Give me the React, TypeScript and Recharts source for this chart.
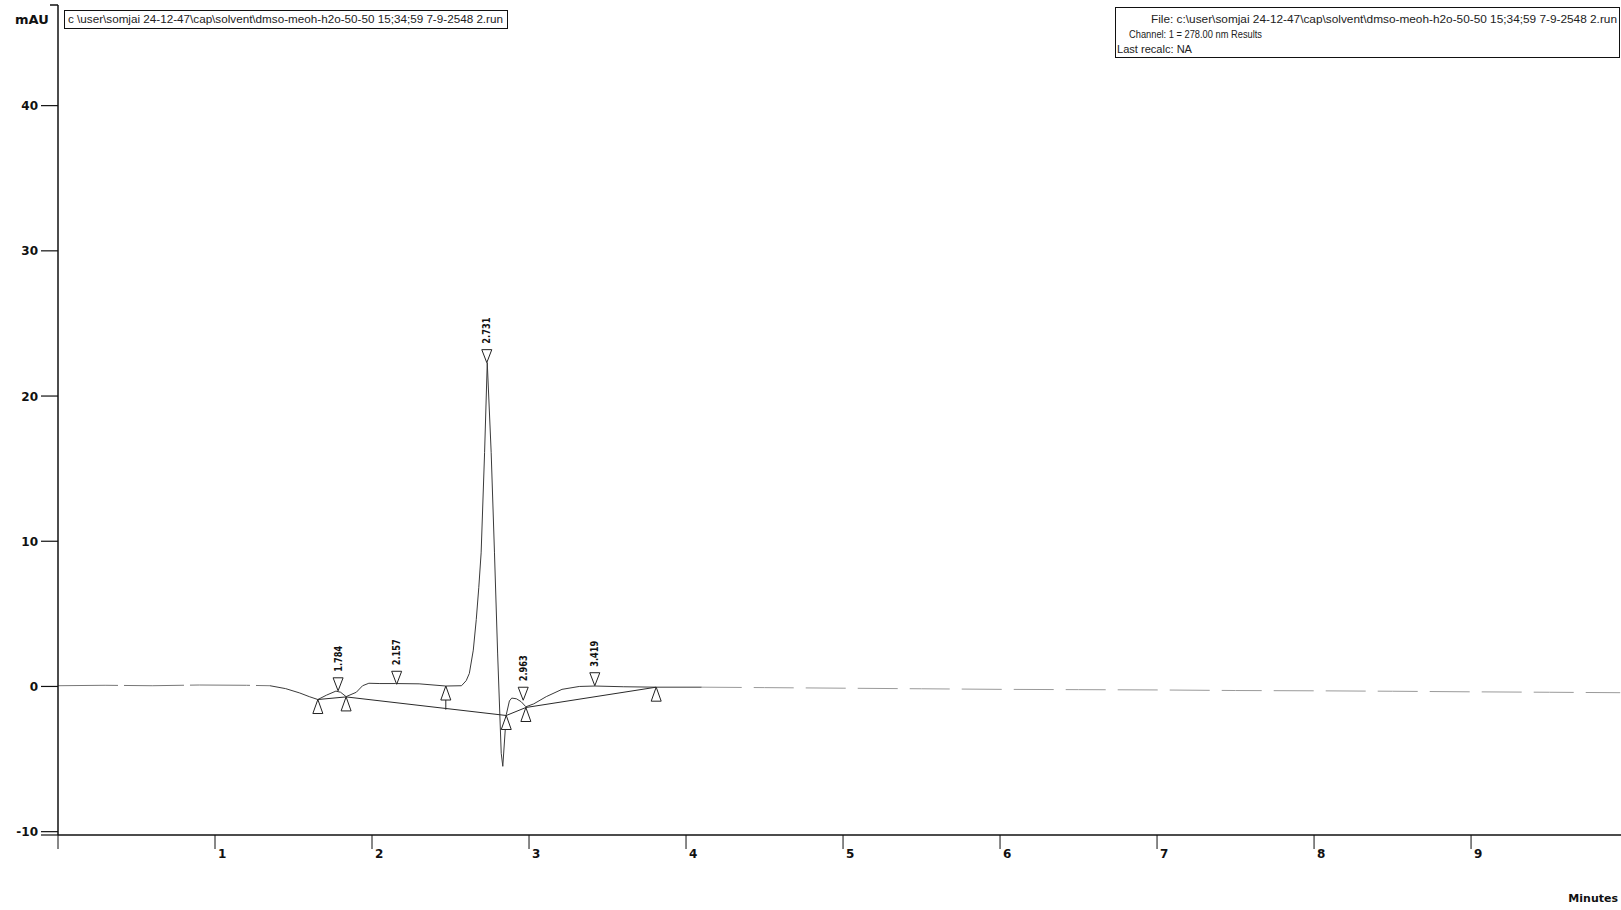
import React from "react";
import { ComposedChart, Line, Scatter, XAxis, YAxis } from "recharts";

// detector trace, minutes vs mAU
const headMinutes = [0, 0.3, 0.6, 0.9, 1.2, 1.35];
const headMAU = [0.05, 0.08, 0.05, 0.1, 0.08, 0.05];
const traceMinutes = [
  1.35, 1.45, 1.54, 1.6, 1.655, 1.71, 1.77, 1.8, 1.835, 1.9, 1.94, 1.98,
  2.05, 2.15, 2.3, 2.47, 2.57, 2.6, 2.62, 2.645, 2.664, 2.68, 2.695, 2.717, 2.734, 2.759, 2.78,
  2.8, 2.823, 2.833, 2.855, 2.875, 2.89, 2.92, 2.95, 2.98, 3.03, 3.11, 3.21, 3.32, 3.42, 3.6, 3.81,
  4.0, 4.1,
];
const traceMAU = [
  0.05, -0.15, -0.45, -0.7, -0.9, -0.6, -0.32, -0.4, -0.7, -0.4, 0.05,
  0.22, 0.2, 0.2, 0.18, 0.03, 0.05, 0.4, 0.9, 2.5, 4.6, 6.8, 9.2, 16.1, 22.3, 16.1, 9.2, 2.3, -4.6,
  -5.5, -1.95, -1.0, -0.8, -0.85, -1.05, -1.4, -1.2, -0.7, -0.2, 0.0, 0.03, -0.02, -0.05, -0.05,
  -0.05,
];
const tailMinutes = [4.1, 4.5, 5.0, 5.5, 6.0, 6.5, 7.0, 7.5, 8.0, 8.5, 9.0, 9.5, 9.95];
const tailMAU = [-0.05, -0.08, -0.12, -0.16, -0.2, -0.22, -0.24, -0.28, -0.3, -0.33, -0.37, -0.4, -0.43];

// integration baseline and valley drop line
const baselineMinutes = [1.655, 1.835, 2.855, 2.98, 3.81];
const baselineMAU = [-0.9, -0.72, -2.0, -1.45, -0.05];
const dropMinutes = [2.47, 2.47];
const dropMAU = [0.03, -1.6];

// peak apex markers
const peakLabels = ["1.784", "2.157", "2.731", "2.963", "3.419"];
const peakMinutes = [1.784, 2.157, 2.731, 2.963, 3.419];
const peakTipMAU = [-0.3, 0.15, 22.3, -0.95, 0.05];

// peak start / stop markers
const eventMinutes = [1.655, 1.835, 2.47, 2.855, 2.98, 3.81];
const eventMAU = [-0.9, -0.72, 0.03, -2.0, -1.45, -0.05];

const xTicks = [0, 1, 2, 3, 4, 5, 6, 7, 8, 9];
const yTicks = [-10, 0, 10, 20, 30, 40];
const X_MAX = 9.955;
const Y_MIN = -10.23;
const Y_MAX = 46.93;

const zip = (ts: number[], vs: number[]) => ts.map((t, i) => ({ t, v: vs[i] }));

const head = zip(headMinutes, headMAU);
const trace = zip(traceMinutes, traceMAU);
const tail = zip(tailMinutes, tailMAU);
const baseline = zip(baselineMinutes, baselineMAU);
const drop = zip(dropMinutes, dropMAU);
const peaks = peakMinutes.map((t, i) => ({ t, v: peakTipMAU[i], label: peakLabels[i] }));
const events = zip(eventMinutes, eventMAU);

const boldFont = "'DejaVu Sans', Verdana, sans-serif";

const XTick = (props: any) => {
  const { x, y, payload } = props;
  return (
    <g>
      <line x1={x} x2={x} y1={y} y2={y + 14} stroke="#111" strokeWidth={1} />
      {payload.value > 0 && (
        <text x={x + 3} y={y + 23} fontSize={12} fontWeight="bold" fontFamily={boldFont} fill="#111">
          {payload.value}
        </text>
      )}
    </g>
  );
};

const YTick = (props: any) => {
  const { x, y, payload } = props;
  const v = payload.value;
  if (v === Y_MAX) return <line x1={x - 8} x2={x} y1={y} y2={y} stroke="#111" strokeWidth={1.5} />;
  if (v === Y_MIN) return <line x1={x - 17} x2={x} y1={y} y2={y} stroke="#111" strokeWidth={1.2} />;
  return (
    <g>
      <line x1={x - 17} x2={x} y1={y} y2={y} stroke="#111" strokeWidth={1.2} />
      <text x={x - 20} y={y + 4.5} textAnchor="end" fontSize={12} fontWeight="bold" fontFamily={boldFont} fill="#111">
        {v}
      </text>
    </g>
  );
};

const PeakMarker = (props: any) => {
  const { cx, cy, payload } = props;
  if (cx == null || cy == null) return <g />;
  return (
    <g>
      <path d={`M${cx},${cy} L${cx - 5},${cy - 13} L${cx + 5},${cy - 13} Z`} fill="#fff" stroke="#222" strokeWidth={1} />
      <text
        transform={`translate(${cx + 3.5},${cy - 19}) rotate(-90)`}
        fontSize={10}
        fontWeight="bold"
        fontFamily={boldFont}
        textLength={26}
        lengthAdjust="spacingAndGlyphs"
        fill="#111"
      >
        {payload.label}
      </text>
    </g>
  );
};

const EventMarker = (props: any) => {
  const { cx, cy } = props;
  if (cx == null || cy == null) return <g />;
  return (
    <path d={`M${cx},${cy} L${cx - 5},${cy + 14} L${cx + 5},${cy + 14} Z`} fill="#fff" stroke="#222" strokeWidth={1} />
  );
};

const boxFont = "'Liberation Sans', Arial, sans-serif";

export default function App() {
  return (
    <div style={{ position: "absolute", left: 0, top: 0, width: 1621, height: 910, background: "#fff" }}>
      <ComposedChart width={1621} height={910} margin={{ top: 5, right: 0, bottom: 0, left: 0 }}>
        <XAxis
          dataKey="t"
          type="number"
          domain={[0, X_MAX]}
          ticks={xTicks}
          allowDataOverflow
          height={75}
          tickSize={0}
          tickMargin={0}
          tickLine={false}
          tick={<XTick />}
          axisLine={{ stroke: "#111", strokeWidth: 1.5 }}
        />
        <YAxis
          dataKey="v"
          type="number"
          domain={[Y_MIN, Y_MAX]}
          ticks={[Y_MIN, ...yTicks, Y_MAX]}
          allowDataOverflow
          width={58}
          tickSize={0}
          tickMargin={0}
          tickLine={false}
          tick={<YTick />}
          interval={0}
          axisLine={{ stroke: "#111", strokeWidth: 1.5 }}
        />
        <Line data={head} dataKey="v" type="linear" stroke="#777" strokeWidth={1} strokeDasharray="60 6" dot={false} isAnimationActive={false} />
        <Line data={trace} dataKey="v" type="linear" stroke="#3a3a3a" strokeWidth={1} dot={false} isAnimationActive={false} />
        <Line data={tail} dataKey="v" type="linear" stroke="#9a9a9a" strokeWidth={1} strokeDasharray="40 12" dot={false} isAnimationActive={false} />
        <Line data={baseline} dataKey="v" type="linear" stroke="#2a2a2a" strokeWidth={1} dot={false} isAnimationActive={false} />
        <Line data={drop} dataKey="v" type="linear" stroke="#2a2a2a" strokeWidth={1} dot={false} isAnimationActive={false} />
        <Scatter data={events} dataKey="v" shape={<EventMarker />} isAnimationActive={false} />
        <Scatter data={peaks} dataKey="v" shape={<PeakMarker />} isAnimationActive={false} />
      </ComposedChart>
      <svg width={1621} height={910} style={{ position: "absolute", left: 0, top: 0, pointerEvents: "none" }}>
        <text x={15} y={24} fontSize={13} fontWeight="bold" fontFamily={boldFont} fill="#111">mAU</text>
        <text x={1618} y={902} textAnchor="end" fontSize={11} fontWeight="bold" fontFamily={boldFont} fill="#111">Minutes</text>
        <rect x={64.5} y={10.5} width={443} height={18} fill="#fff" stroke="#111" strokeWidth={1} />
        <text x={68} y={23} fontSize={10} fontFamily={boxFont} fill="#222" textLength={435} lengthAdjust="spacingAndGlyphs">
          c \user\somjai 24-12-47\cap\solvent\dmso-meoh-h2o-50-50 15;34;59 7-9-2548 2.run
        </text>
        <rect x={1115.5} y={7.5} width={504} height={50} fill="#fff" stroke="#111" strokeWidth={1} />
        <text x={1151} y={23} fontSize={10} fontFamily={boxFont} fill="#222" textLength={466} lengthAdjust="spacingAndGlyphs">
          File: c:\user\somjai 24-12-47\cap\solvent\dmso-meoh-h2o-50-50 15;34;59 7-9-2548 2.run
        </text>
        <text x={1129} y={38} fontSize={10} fontFamily={boxFont} fill="#222" textLength={133} lengthAdjust="spacingAndGlyphs">
          Channel: 1 = 278.00 nm Results
        </text>
        <text x={1117} y={53} fontSize={10} fontFamily={boxFont} fill="#222" textLength={75} lengthAdjust="spacingAndGlyphs">
          Last recalc: NA
        </text>
      </svg>
    </div>
  );
}
